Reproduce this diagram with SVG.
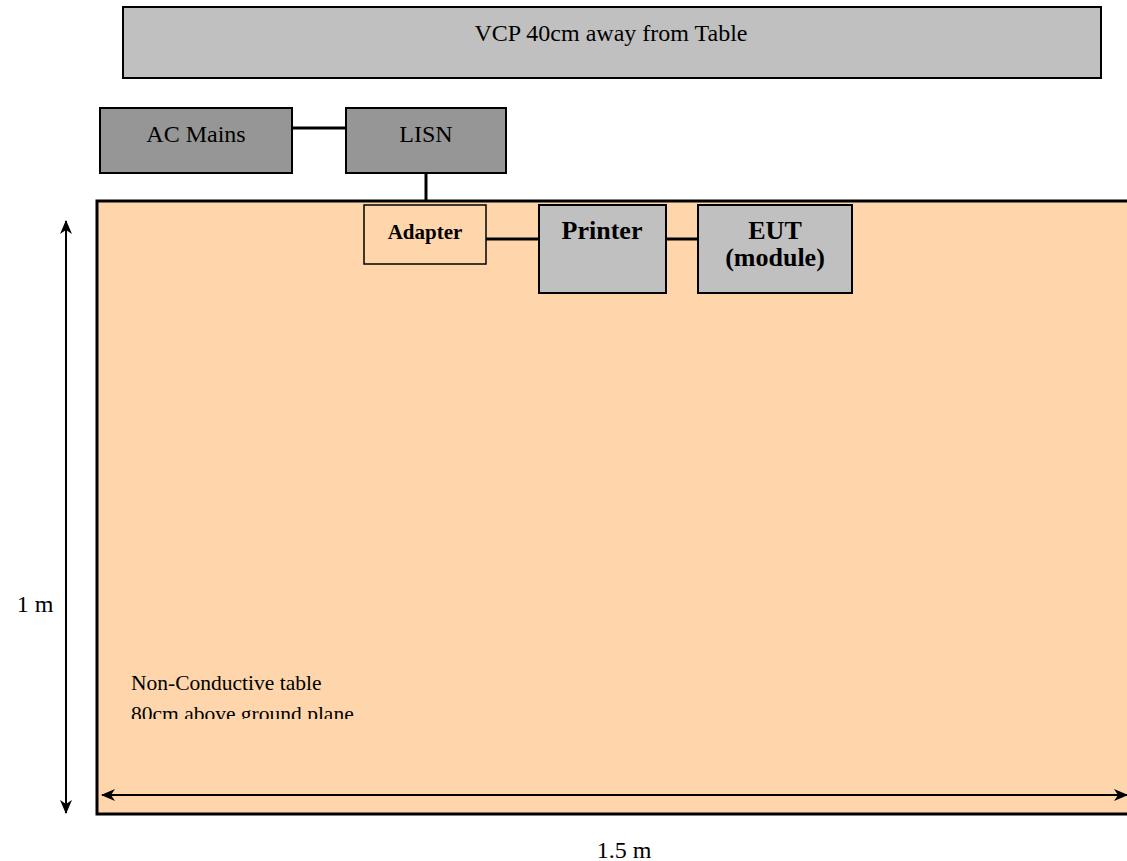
<svg xmlns="http://www.w3.org/2000/svg" width="1127" height="861" viewBox="0 0 1127 861">
<defs>
<style>
text{font-family:"Liberation Serif","Times New Roman",serif;fill:#000}
.n{font-size:24px}
.b{font-weight:bold}
.line{stroke:#000;stroke-width:3;fill:none}
.dim{stroke:#000;stroke-width:2;fill:none}
</style>
<marker id="ah" viewBox="0 0 14 12" refX="13" refY="6" markerWidth="14" markerHeight="12" markerUnits="userSpaceOnUse" orient="auto-start-reverse">
<path d="M0,0 L14,6 L0,12 L4,6 Z" fill="#000"/>
</marker>
<clipPath id="tc"><rect x="100" y="640" width="400" height="79"/></clipPath>
</defs>
<rect width="1127" height="861" fill="#fff"/>
<g id="vcp">
<rect x="123" y="7" width="978" height="71" fill="#C0C0C0" stroke="#000" stroke-width="2"/>
<text class="n" x="611" y="41" text-anchor="middle">VCP 40cm away from Table</text>
</g>
<g id="table">
<rect x="97" y="201" width="1040" height="613" fill="#FFD6AC" stroke="#000" stroke-width="3"/>
<g clip-path="url(#tc)">
<text x="131" y="690" font-size="21.5">Non-Conductive table</text>
<text x="131" y="721" font-size="21.5">80cm above ground plane</text>
</g>
</g>
<g id="connectors">
<line class="line" x1="292" y1="128" x2="346" y2="128"/>
<line class="line" x1="426" y1="173" x2="426" y2="201"/>
<line class="line" x1="486" y1="239" x2="539" y2="239"/>
<line class="line" x1="666" y1="239" x2="698" y2="239"/>
</g>
<g id="ac-mains">
<rect x="100" y="108" width="192" height="65" fill="#969696" stroke="#000" stroke-width="2"/>
<text class="n" x="196" y="142" text-anchor="middle">AC Mains</text>
</g>
<g id="lisn">
<rect x="346" y="108" width="160" height="65" fill="#969696" stroke="#000" stroke-width="2"/>
<text class="n" x="426" y="142" text-anchor="middle">LISN</text>
</g>
<g id="adapter">
<rect x="364" y="205" width="122" height="59" fill="#FFD6AC" stroke="#000" stroke-width="1.5"/>
<text class="b" x="425" y="239" font-size="21" text-anchor="middle">Adapter</text>
</g>
<g id="printer">
<rect x="539" y="205" width="127" height="88" fill="#C0C0C0" stroke="#000" stroke-width="2"/>
<text class="b" x="602" y="239" font-size="26" text-anchor="middle">Printer</text>
</g>
<g id="eut">
<rect x="698" y="205" width="154" height="88" fill="#C0C0C0" stroke="#000" stroke-width="2"/>
<text class="b" x="775" y="239" font-size="26" text-anchor="middle">EUT</text>
<text class="b" x="775" y="266" font-size="26" text-anchor="middle">(module)</text>
</g>
<g id="dimensions">
<line class="dim" x1="66" y1="221" x2="66" y2="813" marker-start="url(#ah)" marker-end="url(#ah)"/>
<line class="dim" x1="102" y1="795" x2="1127" y2="795" marker-start="url(#ah)" marker-end="url(#ah)"/>
<text class="n" x="35" y="612" text-anchor="middle">1 m</text>
<text class="n" x="624" y="858" text-anchor="middle">1.5 m</text>
</g>
</svg>
